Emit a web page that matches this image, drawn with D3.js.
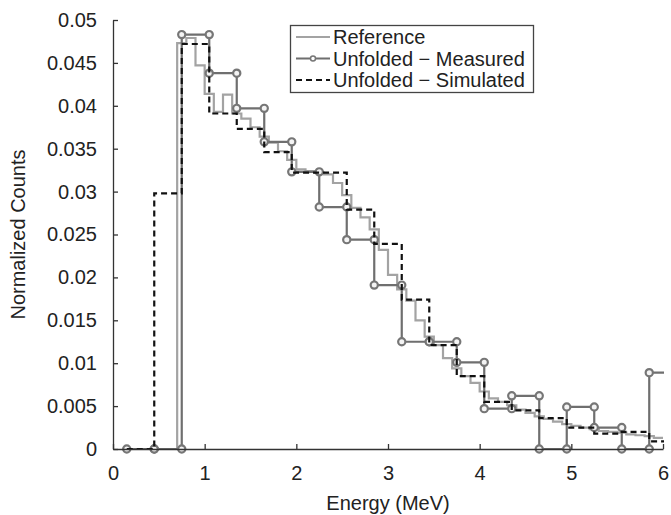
<!DOCTYPE html>
<html>
<head>
<meta charset="utf-8">
<script src="https://cdn.jsdelivr.net/npm/d3@7"></script>
<style>
  body { margin: 0; background: #fff; }
  text { font-family: "Liberation Sans", Arial, sans-serif; fill: #222; }
</style>
</head>
<body>
<div id="chart"></div>
<script>
// bin edges (MeV) of the unfolded spectra, 0.3 MeV wide
var unfoldEdges = [0.15, 0.45, 0.75, 1.05, 1.35, 1.65, 1.95, 2.25, 2.55, 2.85,
  3.15, 3.45, 3.75, 4.05, 4.35, 4.65, 4.95, 5.25, 5.55, 5.85, 6.15];
var measured = [0, 0, 0.0483, 0.0438, 0.0397, 0.0358, 0.0323, 0.0282, 0.0244, 0.0191,
  0.0125, 0.0125, 0.0101, 0.0047, 0.0062, 0, 0.0049, 0.0025, 0, 0.0089];
var simulated = [0, 0.0298, 0.0472, 0.0391, 0.0373, 0.0346, 0.0322, 0.0322, 0.0279, 0.0239,
  0.0174, 0.0121, 0.0085, 0.0055, 0.0045, 0.0036, 0.0025, 0.0018, 0.0020, 0.0009];

// reference spectrum, 0.1 MeV bins
var refEdges = [0.7, 0.8, 0.9, 1.0, 1.1, 1.2, 1.3, 1.4, 1.5, 1.6, 1.7, 1.8, 1.9,
  2.0, 2.1, 2.2, 2.3, 2.4, 2.5, 2.6, 2.7, 2.8, 2.9, 3.0, 3.1, 3.2, 3.3, 3.4, 3.5,
  3.6, 3.7, 3.8, 3.9, 4.0, 4.1, 4.2, 4.3, 4.4, 4.5, 4.6, 4.7, 4.8, 4.9, 5.0, 5.1,
  5.2, 5.3, 5.4, 5.5, 5.6, 5.7, 5.8, 5.9, 6.0];
var reference = [0.0473, 0.0479, 0.0447, 0.0414, 0.0393, 0.0413, 0.0391, 0.0385, 0.0375,
  0.0364, 0.0357, 0.0347, 0.0337, 0.0326, 0.0324, 0.0322, 0.0320, 0.0310, 0.0296,
  0.0281, 0.0270, 0.0256, 0.0232, 0.0203, 0.0186, 0.0173, 0.0150, 0.0131, 0.0121,
  0.0106, 0.0094, 0.0085, 0.0077, 0.0067, 0.0059, 0.0055, 0.0051, 0.0046, 0.0042,
  0.0038, 0.0035, 0.0032, 0.0029, 0.0027, 0.0025, 0.0023, 0.0021, 0.0020, 0.0019,
  0.0017, 0.0016, 0.0015, 0.0013];

var xTicks = [0, 1, 2, 3, 4, 5, 6];
var xTickLabels = ["0", "1", "2", "3", "4", "5", "6"];
var yTicks = [0, 0.005, 0.01, 0.015, 0.02, 0.025, 0.03, 0.035, 0.04, 0.045, 0.05];
var yTickLabels = ["0", "0.005", "0.01", "0.015", "0.02", "0.025", "0.03", "0.035", "0.04", "0.045", "0.05"];
var seriesNames = ["Reference", "Unfolded \u2212 Measured", "Unfolded \u2212 Simulated"];

var width = 671, height = 515;
var margin = {top: 20, right: 8, bottom: 66, left: 113};
var fontSize = 20;

var x = d3.scaleLinear().domain([0, 6]).range([margin.left, width - margin.right]);
var y = d3.scaleLinear().domain([0, 0.05]).range([height - margin.bottom, margin.top]);

// turn bins into stair points (both corners of each bin)
function stairs(edges, vals) {
  var pts = [];
  for (var i = 0; i < vals.length; i++) {
    pts.push([edges[i], vals[i]]);
    pts.push([edges[i + 1], vals[i]]);
  }
  return pts;
}

var svg = d3.select("#chart").append("svg")
  .attr("width", width)
  .attr("height", height);

svg.append("clipPath").attr("id", "plot")
  .append("rect")
  .attr("x", margin.left)
  .attr("y", 0)
  .attr("width", width - margin.right - margin.left + 1)
  .attr("height", height);

var line = d3.line()
  .x(function(d) { return x(d[0]); })
  .y(function(d) { return y(d[1]); });

var plot = svg.append("g").attr("clip-path", "url(#plot)");

// REFERENCE.
var refPts = [[0.7, 0]].concat(stairs(refEdges.concat([6.1]), reference));
plot.append("path")
  .datum(refPts)
  .attr("d", line)
  .attr("fill", "none")
  .attr("stroke", "#a3a3a3")
  .attr("stroke-width", 2.2);

// MEASURED.
var measPts = stairs(unfoldEdges, measured);
plot.append("path")
  .datum(measPts)
  .attr("d", line)
  .attr("fill", "none")
  .attr("stroke", "#6f6f6f")
  .attr("stroke-width", 2.2);

plot.selectAll(".marker")
  .data(measPts).enter()
  .append("circle")
  .attr("class", "marker")
  .attr("cx", function(d) { return x(d[0]); })
  .attr("cy", function(d) { return y(d[1]); })
  .attr("r", 3.6)
  .attr("fill", "#f4f4f4")
  .attr("stroke", "#767676")
  .attr("stroke-width", 2.2);

// SIMULATED.
plot.append("path")
  .datum(stairs(unfoldEdges, simulated))
  .attr("d", line)
  .attr("fill", "none")
  .attr("stroke", "#111")
  .attr("stroke-width", 2.2)
  .attr("stroke-dasharray", "6,4");

// AXES.
svg.append("g")
  .attr("transform", "translate(0," + y(0) + ")")
  .call(d3.axisBottom(x).tickValues(xTicks)
    .tickFormat(function(d, i) { return xTickLabels[i]; })
    .tickSizeInner(-5).tickSizeOuter(0).tickPadding(17));

svg.append("g")
  .attr("transform", "translate(" + x(0) + ",0)")
  .call(d3.axisLeft(y).tickValues(yTicks)
    .tickFormat(function(d, i) { return yTickLabels[i]; })
    .tickSizeInner(-5).tickSizeOuter(0).tickPadding(16));

svg.selectAll(".tick text").attr("font-size", fontSize).attr("font-family", null);
svg.selectAll(".domain, .tick line").attr("stroke", "#333").attr("stroke-width", 1.3);

svg.append("text")
  .attr("x", (x(0) + x(6)) / 2)
  .attr("y", 510)
  .attr("text-anchor", "middle")
  .attr("font-size", fontSize)
  .text("Energy (MeV)");

svg.append("text")
  .attr("transform", "translate(25," + (y(0) + y(0.05)) / 2 + ") rotate(-90)")
  .attr("text-anchor", "middle")
  .attr("font-size", fontSize)
  .text("Normalized Counts");

// LEGEND.
var legend = svg.append("g");
legend.append("rect")
  .attr("x", 290.5).attr("y", 25.5)
  .attr("width", 243).attr("height", 67)
  .attr("fill", "#fff")
  .attr("stroke", "#444")
  .attr("stroke-width", 1.3);

var rows = legend.selectAll(".row")
  .data(seriesNames).enter()
  .append("g")
  .attr("transform", function(_, i) { return "translate(0," + (37 + i * 21.5) + ")"; });

rows.append("line")
  .attr("x1", 296).attr("x2", 330)
  .attr("stroke", function(_, i) { return ["#a3a3a3", "#6f6f6f", "#111"][i]; })
  .attr("stroke-width", 2.2)
  .attr("stroke-dasharray", function(_, i) { return i === 2 ? "6,4" : null; });

rows.filter(function(_, i) { return i === 1; })
  .append("circle")
  .attr("cx", 313).attr("r", 2.5)
  .attr("fill", "#fff").attr("stroke", "#767676").attr("stroke-width", 1.5);

rows.append("text")
  .attr("x", 333)
  .attr("dy", "0.35em")
  .attr("font-size", fontSize)
  .text(function(d) { return d; });
</script>
</body>
</html>
